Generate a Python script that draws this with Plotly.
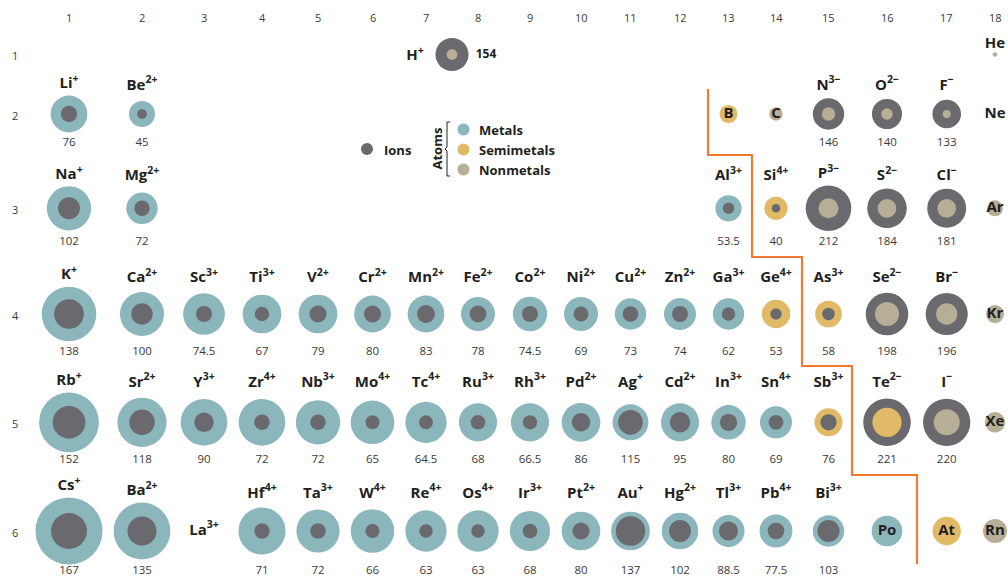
import plotly.graph_objects as go

# ── Element data (radii in pm; atom radii estimated from circle sizes) ──────
SYMBOLS = [
    "H", "He",
    "Li", "Be", "B", "C", "N", "O", "F", "Ne",
    "Na", "Mg", "Al", "Si", "P", "S", "Cl", "Ar",
    "K", "Ca", "Sc", "Ti", "V", "Cr", "Mn", "Fe", "Co", "Ni", "Cu", "Zn", "Ga", "Ge", "As", "Se", "Br", "Kr",
    "Rb", "Sr", "Y", "Zr", "Nb", "Mo", "Tc", "Ru", "Rh", "Pd", "Ag", "Cd", "In", "Sn", "Sb", "Te", "I", "Xe",
    "Cs", "Ba", "La", "Hf", "Ta", "W", "Re", "Os", "Ir", "Pt", "Au", "Hg", "Tl", "Pb", "Bi", "Po", "At", "Rn",
]
GROUPS = (
    [1, 18]
    + [1, 2, 13, 14, 15, 16, 17, 18]
    + [1, 2, 13, 14, 15, 16, 17, 18]
    + list(range(1, 19)) * 3
)
PERIODS = [1] * 2 + [2] * 8 + [3] * 8 + [4] * 18 + [5] * 18 + [6] * 18
KINDS = (
    ["n", "n"]
    + ["m", "m", "s", "n", "n", "n", "n", "n"]
    + ["m", "m", "m", "s", "n", "n", "n", "n"]
    + ["m"] * 13 + ["s", "s", "n", "n", "n"]
    + ["m"] * 14 + ["s", "s", "n", "n"]
    + ["m"] * 16 + ["s", "n"]
)
ATOM_PM = [
    50, 22,
    171, 121, 84, 62, 62, 53, 37, None,
    206, 146, 122, 108, 93, 87, 87, 74,
    254, 205, 194, 180, 180, 171, 171, 158, 160, 158, 146, 149, 146, 132, 124, 112, 99, 84,
    278, 229, 217, 217, 206, 203, 192, 178, 178, 180, 167, 177, 160, 149, 130, 136, 121, 95,
    312, 264, None, 219, 201, 203, 192, 192, 187, 180, 180, 170, 149, 153, 146, 143, 132, 112,
]
ION_CHARGE = [
    "+", None,
    "+", "2+", None, None, "3−", "2−", "−", None,
    "+", "2+", "3+", "4+", "3−", "2−", "−", None,
    "+", "2+", "3+", "3+", "2+", "2+", "2+", "2+", "2+", "2+", "2+", "2+", "3+", "4+", "3+", "2−", "−", None,
    "+", "2+", "3+", "4+", "3+", "4+", "4+", "3+", "3+", "2+", "+", "2+", "3+", "4+", "3+", "2−", "−", None,
    "+", "2+", "3+", "4+", "3+", "4+", "4+", "4+", "3+", "2+", "+", "2+", "3+", "4+", "3+", None, None, None,
]
ION_PM = [
    154, None,
    76, 45, None, None, 146, 140, 133, None,
    102, 72, 53.5, 40, 212, 184, 181, None,
    138, 100, 74.5, 67, 79, 80, 83, 78, 74.5, 69, 73, 74, 62, 53, 58, 198, 196, None,
    152, 118, 90, 72, 72, 65, 64.5, 68, 66.5, 86, 115, 95, 80, 69, 76, 221, 220, None,
    167, 135, None, 71, 72, 66, 63, 63, 68, 80, 137, 102, 88.5, 77.5, 103, None, None, None,
]
GROUP_LABELS = [str(g) for g in range(1, 19)]
PERIOD_LABELS = [str(p) for p in range(1, 7)]
LEGEND_KINDS = ["m", "s", "n"]
LEGEND_NAMES = ["Metals", "Semimetals", "Nonmetals"]

# ── Palette / layout (pixel coordinates of the irregular grid) ──────────────
_METAL = "#8AB6BC"
_SEMI = "#E0BA66"
_NONMETAL = "#B6AE97"
_ION = "#6A6A6E"
_ORANGE = "#F07A30"
_TEXT = "#231F20"
_SUB = "#3A3A3A"
_FONT = "Open Sans, sans-serif"
KIND_COLOR = {"m": _METAL, "s": _SEMI, "n": _NONMETAL}

COL_X = [69, 142, 204, 262, 318, 372.5, 426, 478, 530, 581, 630.5, 680,
         728.5, 776, 828.5, 887, 946.7, 995]
ROW_Y = [54.5, 114, 208.3, 314, 422.3, 531]
LABEL_Y = [44, 86, 176.5, 278.5, 383, 494]
VALUE_Y = [54, 142.7, 242.5, 352, 460.5, 571]
PX_PER_PM = 0.215
METAL_LINE = "M 708 89 V 155 H 752 V 257 H 802 V 366 H 852 V 475 H 917 V 564"


def _fmt(v):
    return f"{v:g}"


def _pos(i):
    if SYMBOLS[i] == "H":  # hydrogen drawn at the top centre
        return (COL_X[6] + COL_X[7]) / 2, ROW_Y[0]
    return COL_X[GROUPS[i] - 1], ROW_Y[PERIODS[i] - 1]


circles = []  # (x, y, diameter, color)
lab_x, lab_y, lab_t = [], [], []
val_x, val_y, val_t = [], [], []
bold_x, bold_y, bold_t = [], [], []

for i, sym in enumerate(SYMBOLS):
    x, y = _pos(i)
    a, ion, ch = ATOM_PM[i], ION_PM[i], ION_CHARGE[i]
    r_max = 0
    if a:
        circles.append((x, y, a * PX_PER_PM, KIND_COLOR[KINDS[i]]))
        r_max = max(r_max, a * PX_PER_PM / 2)
    if ion:
        circles.append((x, y, ion * PX_PER_PM, _ION))
        r_max = max(r_max, ion * PX_PER_PM / 2)
    p = PERIODS[i] - 1
    if sym == "H":
        lab_x.append(x - 37); lab_y.append(y + 2); lab_t.append(f"H<sup>{ch}</sup>")
        bold_x.append(x + 34); bold_y.append(y); bold_t.append(_fmt(ion))
    elif sym == "He":
        lab_x.append(x); lab_y.append(LABEL_Y[0]); lab_t.append(sym)
    elif ch and ion:
        lab_x.append(x); lab_y.append(min(LABEL_Y[p], y - r_max - 11))
        lab_t.append(f"{sym}<sup>{ch}</sup>")
        val_x.append(x); val_y.append(VALUE_Y[p]); val_t.append(_fmt(ion))
    elif ch:
        lab_x.append(x); lab_y.append(y); lab_t.append(f"{sym}<sup>{ch}</sup>")
    else:
        lab_x.append(x); lab_y.append(y); lab_t.append(sym)

# big circles first so the smaller one sits on top
circles.sort(key=lambda c: -c[2])

fig = go.Figure()
fig.add_trace(go.Scatter(
    x=[c[0] for c in circles], y=[c[1] for c in circles], mode="markers",
    marker=dict(size=[c[2] for c in circles], color=[c[3] for c in circles],
                line=dict(width=0), opacity=1),
    hoverinfo="skip"))
fig.add_trace(go.Scatter(
    x=lab_x, y=lab_y, text=lab_t, mode="text", textposition="middle center",
    textfont=dict(family=_FONT, size=15, color=_TEXT, weight="bold"), hoverinfo="skip"))
fig.add_trace(go.Scatter(
    x=val_x, y=val_y, text=val_t, mode="text", textposition="middle center",
    textfont=dict(family=_FONT, size=11.5, color=_SUB), hoverinfo="skip"))
fig.add_trace(go.Scatter(
    x=bold_x, y=bold_y, text=bold_t, mode="text", textposition="middle center",
    textfont=dict(family=_FONT, size=12, color=_TEXT, weight="bold"), hoverinfo="skip"))

# group / period numbers
annotations = []
for gx, gt in zip(COL_X, GROUP_LABELS):
    annotations.append(dict(x=gx, y=17.5, text=gt, showarrow=False,
                            font=dict(family=_FONT, size=11, color=_SUB)))
for py, pt in zip(ROW_Y, PERIOD_LABELS):
    annotations.append(dict(x=15, y=py + 1, text=pt, showarrow=False,
                            font=dict(family=_FONT, size=11, color=_SUB)))

# legend
shapes = [dict(type="path", path=METAL_LINE, line=dict(color=_ORANGE, width=2.2))]
_lfont = dict(family=_FONT, size=13, color=_TEXT, weight="bold")


def _dot(cx, cy, color, d=12):
    return dict(type="circle", x0=cx - d / 2, x1=cx + d / 2, y0=cy - d / 2, y1=cy + d / 2,
                fillcolor=color, line=dict(width=0))


shapes.append(_dot(367, 149, _ION))
annotations.append(dict(x=382, y=150, text="Ions", showarrow=False, xanchor="left", font=_lfont))
annotations.append(dict(x=436.5, y=149, text="Atoms", showarrow=False, textangle=-90, font=_lfont))
shapes.append(dict(type="path", path="M 450 122 H 447 V 147 L 445 149 L 447 151 V 176 H 450",
                   line=dict(color=_TEXT, width=1)))
for k, (kind, name) in enumerate(zip(LEGEND_KINDS, LEGEND_NAMES)):
    ly = 129.5 + 20 * k
    shapes.append(_dot(463.5, ly, KIND_COLOR[kind]))
    annotations.append(dict(x=477, y=ly + 0.5, text=name, showarrow=False, xanchor="left", font=_lfont))

fig.update_layout(
    width=1008, height=578, margin=dict(l=0, r=0, t=0, b=0),
    paper_bgcolor="white", plot_bgcolor="white", showlegend=False,
    xaxis=dict(range=[0, 1008], visible=False, fixedrange=True),
    yaxis=dict(range=[578, 0], visible=False, fixedrange=True),
    shapes=shapes, annotations=annotations,
)
# page body has a default 8px margin; drop it so pixel coordinates line up
fig.write_html("out.html", config={"displayModeBar": False},
               post_script="document.body.style.margin='0';document.body.style.overflow='hidden';")
